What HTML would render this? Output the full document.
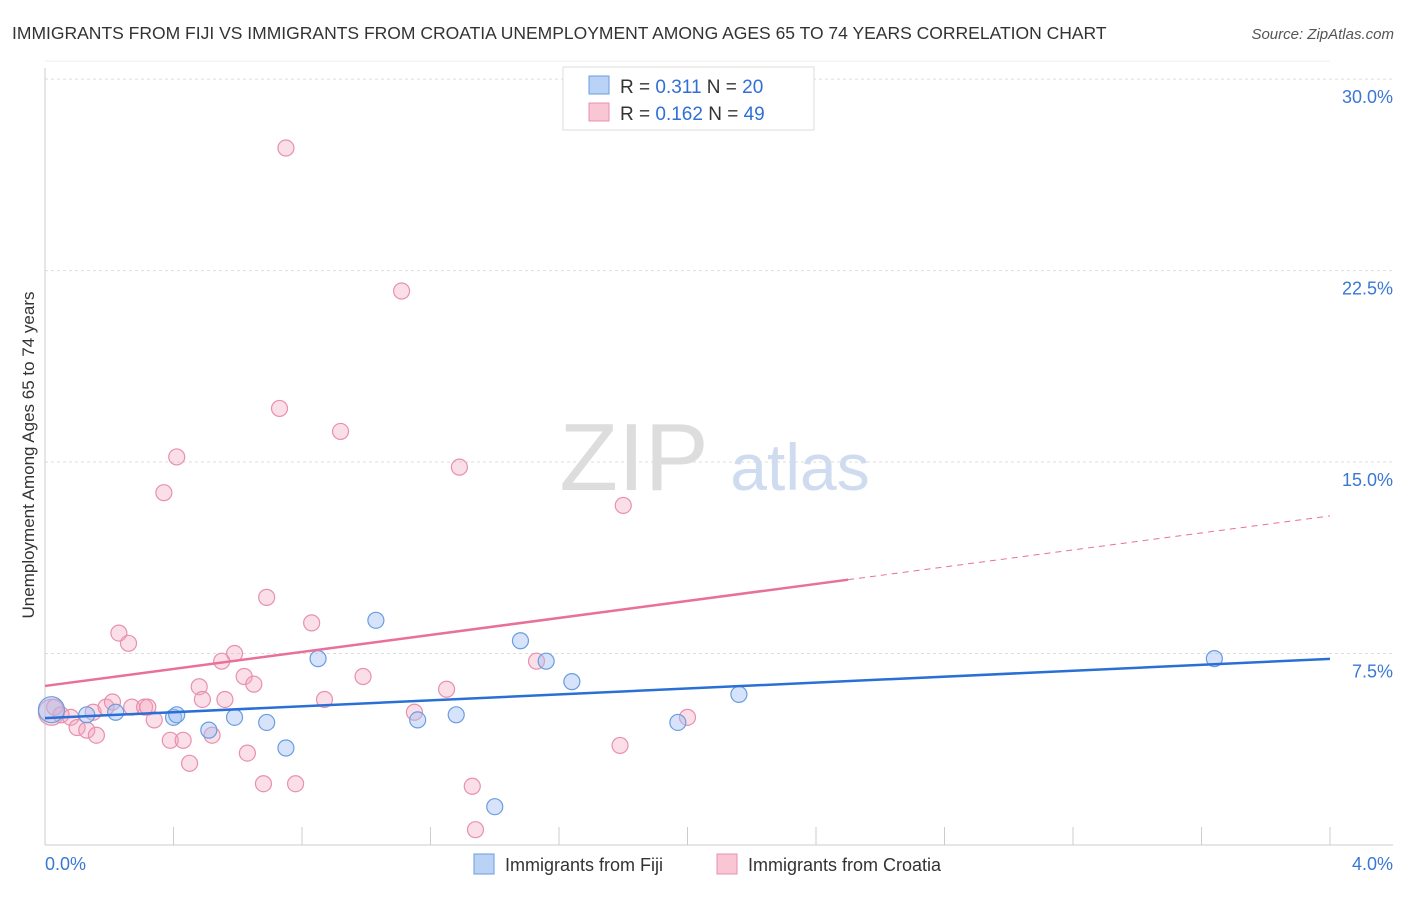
<!DOCTYPE html>
<html><head><meta charset="utf-8"><style>
body{margin:0;background:#fff;font-family:"Liberation Sans",sans-serif}
svg text{font-family:"Liberation Sans",sans-serif}
</style></head><body>
<svg id="c" width="1406" height="892">
<text x="12" y="39" font-size="17.5" fill="#333">IMMIGRANTS FROM FIJI VS IMMIGRANTS FROM CROATIA UNEMPLOYMENT AMONG AGES 65 TO 74 YEARS CORRELATION CHART</text>
<text x="1394" y="39" font-size="15" fill="#555" font-style="italic" text-anchor="end">Source: ZipAtlas.com</text>
<g id="grid"></g>
<text x="634" y="490" font-size="96" fill="#ddd" font-family="Liberation Serif" text-anchor="middle">ZIP</text>
<text x="800" y="490" font-size="66" fill="#cfdcf0" text-anchor="middle">atlas</text>
<g id="marks"></g>
<text transform="translate(34,455) rotate(-90)" font-size="17" fill="#333" text-anchor="middle">Unemployment Among Ages 65 to 74 years</text>
<g>
<rect x="563" y="67" width="251" height="63" fill="#fff" stroke="#ddd"/>
<rect x="589" y="76" width="20" height="18" fill="#b9d2f5" stroke="#6a9de0"/>
<rect x="589" y="103" width="20" height="18" fill="#f9c6d5" stroke="#e890ad"/>
<text x="620" y="93" font-size="19" fill="#333">R = <tspan fill="#2f6fd6">0.311</tspan>   N = <tspan fill="#2f6fd6">20</tspan></text>
<text x="620" y="120" font-size="19" fill="#333">R = <tspan fill="#2f6fd6">0.162</tspan>   N = <tspan fill="#2f6fd6">49</tspan></text>
</g>
<g>
<rect x="474" y="854" width="20" height="20" fill="#b9d2f5" stroke="#6a9de0"/>
<text x="505" y="871" font-size="18" fill="#333">Immigrants from Fiji</text>
<rect x="717" y="854" width="20" height="20" fill="#f9c6d5" stroke="#e890ad"/>
<text x="748" y="871" font-size="18" fill="#333">Immigrants from Croatia</text>
</g>
</svg>
<script>
const yTicks=[7.5,15,22.5,30];
const yTickLabels=["7.5%","15.0%","22.5%","30.0%"];
const xTickCount=10;
const fijiX=[0.02,0.13,0.22,0.40,0.41,0.51,0.59,0.69,0.75,0.85,1.03,1.16,1.28,1.40,1.48,1.56,1.64,1.97,2.16,3.64];
const fijiY=[5.3,5.1,5.2,5.0,5.1,4.5,5.0,4.8,3.8,7.3,8.8,4.9,5.1,1.5,8.0,7.2,6.4,4.8,5.9,7.3];
const croX=[0.02,0.03,0.05,0.08,0.10,0.13,0.15,0.16,0.19,0.21,0.23,0.26,0.27,0.31,0.32,0.34,0.37,0.39,0.41,0.43,0.45,0.48,0.49,0.52,0.55,0.56,0.59,0.62,0.63,0.65,0.68,0.69,0.73,0.75,0.78,0.83,0.87,0.92,0.99,1.11,1.15,1.25,1.29,1.33,1.34,1.53,1.79,1.80,2.00];
const croY=[5.2,5.4,5.1,5.0,4.6,4.5,5.2,4.3,5.4,5.6,8.3,7.9,5.4,5.4,5.4,4.9,13.8,4.1,15.2,4.1,3.2,6.2,5.7,4.3,7.2,5.7,7.5,6.6,3.6,6.3,2.4,9.7,17.1,27.3,2.4,8.7,5.7,16.2,6.6,21.7,5.2,6.1,14.8,2.3,0.6,7.2,3.9,13.3,5.0];
const fijiTrend=[4.97,7.29];
const croTrend=[6.23,12.89];
const croSolidEnd=2.5;
const NS="http://www.w3.org/2000/svg";
const X=v=>45+v/4*1285, Y=v=>845-v*25.53;
function mk(t,a,p){const e=document.createElementNS(NS,t);for(const k in a)e.setAttribute(k,a[k]);p.appendChild(e);return e;}
const g=document.getElementById('grid'), m=document.getElementById('marks');
mk('line',{x1:45,y1:Y(30)-18,x2:1330,y2:Y(30)-18,stroke:'#eee'},g);
yTicks.forEach((t,i)=>{const l=mk('line',{x1:45,y1:Y(t),x2:1393,y2:Y(t),stroke:'#ddd','stroke-dasharray':'3,3'},g);

const tx=mk('text',{x:1393,y:Y(t)+24,'font-size':18,fill:'#3a78d4','text-anchor':'end'},g);tx.textContent=yTickLabels[i];
});
mk('line',{x1:45,y1:68,x2:45,y2:845,stroke:'#ccc'},g);
mk('line',{x1:45,y1:845,x2:1393,y2:845,stroke:'#ccc'},g);
for(let i=0;i<=xTickCount;i++){const l=mk('line',{x1:X(i*0.4),y1:827,x2:X(i*0.4),y2:845,stroke:'#ccc'},g);
}
let t1=mk('text',{x:45,y:870,'font-size':18,fill:'#3a78d4'},g);t1.textContent='0.0%';

let t2=mk('text',{x:1393,y:870,'font-size':18,fill:'#3a78d4','text-anchor':'end'},g);t2.textContent='4.0%';

croX.forEach((x,i)=>{const c=mk('circle',{cx:X(x),cy:Y(croY[i]),r:i==0?13:8,fill:'rgba(244,164,190,0.35)',stroke:'#e890ad','stroke-width':1.2},m);
});
fijiX.forEach((x,i)=>{const c=mk('circle',{cx:X(x),cy:Y(fijiY[i]),r:i==0?13:8,fill:'rgba(164,194,244,0.45)',stroke:'#6a9de0','stroke-width':1.2},m);
});
const cy=v=>croTrend[0]+(croTrend[1]-croTrend[0])*v/4;
let l1=mk('line',{x1:X(0),y1:Y(cy(0)),x2:X(croSolidEnd),y2:Y(cy(croSolidEnd)),stroke:'#e8709a','stroke-width':2.5},m);

let l2=mk('line',{x1:X(croSolidEnd),y1:Y(cy(croSolidEnd)),x2:X(4),y2:Y(cy(4)),stroke:'#e8709a','stroke-width':1,'stroke-dasharray':'6,5'},m);

let l3=mk('line',{x1:X(0),y1:Y(fijiTrend[0]),x2:X(4),y2:Y(fijiTrend[1]),stroke:'#2a6fd6','stroke-width':2.5},m);

</script>
</body></html>
